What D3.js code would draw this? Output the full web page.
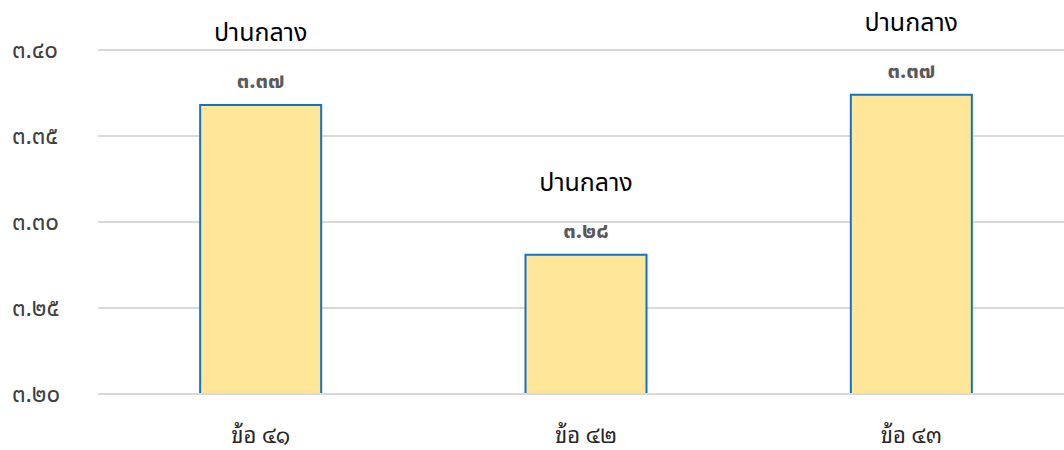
<!DOCTYPE html>
<html>
<head>
<meta charset="utf-8">
<script src="https://cdn.jsdelivr.net/npm/d3@7"></script>
<style>
  body { margin: 0; background: #fff; }
  text { font-family: "Leelawadee UI", "Noto Sans Thai", "Noto Sans", Tahoma, sans-serif; }
  .xlab { font-family: "Noto Sans Thai Looped", Tahoma, Loma, Garuda, "Noto Serif Thai", "Noto Sans Thai", sans-serif; }
</style>
</head>
<body>
<script>
var w = 1064,
  h = 450;

// data
var categories = ['ข้อ ๔๑', 'ข้อ ๔๒', 'ข้อ ๔๓'];
var values = [3.368, 3.281, 3.374];
var levels = ['ปานกลาง', 'ปานกลาง', 'ปานกลาง'];
var yTicks = [3.20, 3.25, 3.30, 3.35, 3.40];

var thaiDigits = '๐๑๒๓๔๕๖๗๘๙';
function toThai(s) {
  return s.replace(/[0-9]/g, function (c) { return thaiDigits[+c]; });
}

var svg = d3.select('body').append('svg')
  .attr('width', w)
  .attr('height', h);

var x = d3.scaleBand()
  .domain(categories)
  .range([98, 1074])
  .paddingInner(0.628)
  .paddingOuter(0.314);

var y = d3.scaleLinear()
  .domain([3.20, 3.40])
  .range([394, 50]);

// gridlines
svg.append('g')
  .selectAll('line')
  .data(yTicks)
  .enter()
  .append('line')
  .attr('x1', 98)
  .attr('x2', w)
  .attr('y1', function (d) { return y(d); })
  .attr('y2', function (d) { return y(d); })
  .attr('stroke', '#d9d9d9')
  .attr('stroke-width', 2);

// y labels
svg.append('g')
  .selectAll('text')
  .data(yTicks)
  .enter()
  .append('text')
  .attr('x', 12)
  .attr('y', function (d) { return y(d) + 8; })
  .attr('font-size', 24)
  .attr('fill', '#404040')
  .text(function (d) { return toThai(d.toFixed(2)); });

// bars (fill, then open outline: no bottom edge)
var bars = svg.append('g')
  .selectAll('g')
  .data(values)
  .enter()
  .append('g');

bars.append('rect')
  .attr('x', function (d, i) { return x(categories[i]); })
  .attr('y', function (d) { return y(d); })
  .attr('width', x.bandwidth())
  .attr('height', function (d) { return y(3.20) - y(d); })
  .attr('fill', '#ffe699');

bars.append('path')
  .attr('d', function (d, i) {
    var x0 = x(categories[i]), x1 = x0 + x.bandwidth();
    var p = d3.path();
    p.moveTo(x0, y(3.20));
    p.lineTo(x0, y(d));
    p.lineTo(x1, y(d));
    p.lineTo(x1, y(3.20));
    return p.toString();
  })
  .attr('fill', 'none')
  .attr('stroke', '#1272c4')
  .attr('stroke-width', 2);

// baseline over bars
svg.append('line')
  .attr('x1', 98)
  .attr('x2', w)
  .attr('y1', y(3.20))
  .attr('y2', y(3.20))
  .attr('stroke', '#d9d9d9')
  .attr('stroke-width', 2);

// value labels
svg.append('g')
  .selectAll('text')
  .data(values)
  .enter()
  .append('text')
  .attr('x', function (d, i) { return x(categories[i]) + x.bandwidth() / 2; })
  .attr('y', function (d) { return y(d) - 17; })
  .attr('text-anchor', 'middle')
  .attr('font-size', 22)
  .attr('font-weight', 'bold')
  .attr('fill', '#595959')
  .text(function (d) { return toThai(d.toFixed(2)); });

// level labels
svg.append('g')
  .selectAll('text')
  .data(values)
  .enter()
  .append('text')
  .attr('x', function (d, i) { return x(categories[i]) + x.bandwidth() / 2; })
  .attr('y', function (d) { return y(d) - 64; })
  .attr('text-anchor', 'middle')
  .attr('font-size', 25)
  .attr('fill', '#000')
  .text(function (d, i) { return levels[i]; });

// x labels
svg.append('g')
  .selectAll('text')
  .data(categories)
  .enter()
  .append('text')
  .attr('class', 'xlab')
  .attr('x', function (d) { return x(d) + x.bandwidth() / 2; })
  .attr('y', 443)
  .attr('text-anchor', 'middle')
  .attr('font-size', 22)
  .attr('fill', '#262626')
  .text(function (d) { return d; });
</script>
</body>
</html>
